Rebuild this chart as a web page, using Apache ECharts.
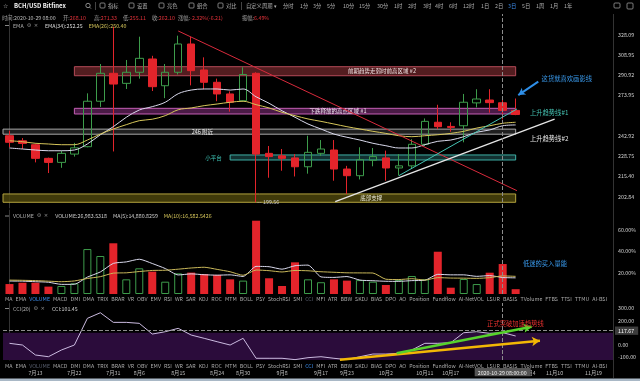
<!DOCTYPE html>
<html><head><meta charset="utf-8">
<script src="https://cdn.jsdelivr.net/npm/echarts@6.0.0/dist/echarts.min.js"></script>
<style>html,body{margin:0;padding:0;background:#000;overflow:hidden}#chart{width:640px;height:381px}</style>
</head><body><div id="chart"></div>
<script>
// ---------------- data ----------------
const dates = ['7月7','7月10','7月13','7月16','7月19','7月22','7月25','7月28','7月31','8月3','8月6','8月9','8月12','8月15','8月18','8月21','8月24','8月27','8月30','9月2','9月5','9月8','9月11','9月14','9月17','9月20','9月23','9月26','9月29','10月2','10月5','10月8','10月11','10月14','10月17','10月20','10月23','10月26','10月29','11月1','11月4','11月7','11月10','11月13','11月16','11月19','11月22'];
const dateTicks = ['7月13','7月22','7月31','8月6','8月15','8月24','8月30','9月8','9月17','9月23','10月2','10月11','10月17','11月4','11月10','11月19'];
const openP  = [243.1,239.5,236.7,227.3,224.6,230.2,235.3,269.3,292.6,284.0,293.5,305.3,282.0,293.5,319.2,295.5,284.9,275.2,269.7,292.6,230.7,229.0,227.6,221.7,230.7,233.0,220.2,215.9,226.0,227.6,220.9,222.3,237.0,253.0,249.9,250.4,268.0,270.3,268.10,262.10];
const closeP = [238.4,237.6,227.3,224.6,230.7,234.5,269.3,292.6,283.4,293.5,305.9,281.2,293.5,319.2,294.9,284.9,275.2,268.5,291.6,230.2,228.5,227.3,221.7,231.4,233.7,220.2,215.9,226.4,228.5,220.9,222.3,237.0,253.7,249.7,249.2,268.5,271.1,268.2,262.10,258.89];
const lowP   = [234.9,233.7,224.6,217.6,221.0,228.5,234.9,264.8,232.0,279.3,288.0,277.6,271.8,291.6,282.3,279.1,269.3,261.1,269.3,199.56,214.6,219.1,215.4,217.2,229.0,212.7,204.5,213.5,222.0,212.7,216.0,220.2,235.8,247.9,246.0,238.4,264.4,260.3,255.11,258.4];
const highP  = [246.8,241.4,237.6,227.8,232.6,238.0,275.7,300.8,336.0,304.4,326.2,308.2,300.8,327.2,326.2,306.8,288.0,277.3,297.9,293.5,235.8,233.7,230.2,243.1,240.0,240.0,222.3,234.9,234.4,232.6,230.2,240.6,255.9,266.5,253.0,275.2,279.1,279.1,271.33,271.5];
const emaWhite  = [234.4,233.7,233.0,232.5,232.5,233.0,237.2,243.8,249.7,256.8,262.4,265.0,268.5,275.4,278.4,279.3,279.3,278.4,279.3,272.9,267.7,261.8,256.8,251.7,248.0,244.3,242.0,240.0,237.7,236.0,234.4,234.4,236.7,239.1,240.0,242.4,245.6,247.3,250.40,251.0];
const emaYellow = [239.5,238.8,237.7,237.2,236.7,236.7,240.0,244.3,248.0,251.2,254.2,255.3,258.0,262.6,264.0,265.8,267.1,268.5,269.3,266.6,264.0,260.6,258.0,255.5,253.7,251.7,249.7,248.0,246.3,244.8,243.1,242.4,243.1,243.8,244.8,246.3,248.7,250.4,252.25,253.0];
const volume  = [9.3,10.5,10.5,6.9,7.5,10,42,35.5,47.4,13.7,24,20.9,11.5,19.3,20,18.7,17.8,13.7,12.5,68.5,14.7,7.5,29.6,13.7,11,13.7,12.5,13,11.5,8.4,13,16.8,13.7,39.5,5.9,14,9.3,19.9,28,4.5];
const volMA5  = [12.1,12,11.5,11,9,9.1,15.8,20.6,28.6,30,32.5,28.5,23.8,17.8,18.8,18,17.6,17.9,16.4,25.8,25.5,23.2,26.4,27,16,15.5,16.3,13,12.4,11.9,11.8,12.5,12.8,18.4,17.9,17.9,16.5,17.2,15.4,15.1];
const volMA10 = [13,12.8,12.5,12,11.5,12.2,14.5,16.2,19.5,19.8,21,22,22.2,23.2,24.3,25,23,20.8,17.5,22.4,21.8,20.6,22,21.7,20.8,20.3,19.8,19.7,19.6,13.8,13.5,14.3,13,15.3,14.9,14.8,14.6,15.3,16.9,16.5];
const cci = [14,0,-82,-96,-41,0,219,265,186,186,178,90,109,137,82,55,27,0,55,-109,-109,-109,-120,-104,-96,-109,-120,-96,-74,-74,-68,-41,14,14,19,101,109,96,101.45,74];
const priceTicks = [202.84,215.40,228.75,242.92,273.95,290.92,308.95,328.09];
const volTicks = [20,40,60];
const cciTicks = [-100,0,200,300];
const cciBand = [100,-123];
const zoneNames = ['前期趋势走弱时前高区域 #2','下跌释放的高点区域 #1','246 附近','小平台','底部支撑'];
const zoneStart = [5,5,-0.5,17,-0.5];
const zoneEnd   = [39,39,39,39,39];
const zoneHigh  = [298.4,263.7,247.9,229.6,204.5];
const zoneLow   = [290.5,259.3,244.2,226.2,199.5];
const trendNames = ['下降压力线','上升趋势线#1','上升趋势线#2'];
const trendStartIdx = [13.0,30.0,25.1];
const trendStartPrice = [331.8,215.9,199.9];
const trendEndIdx = [39.1,39.1,42.0];
const trendEndPrice = [206.5,263.2,255.3];
const mainNotes = ['这货就喜欢画影线','上升趋势线#1','上升趋势线#2'];
const mainNoteIdx = [41.0,40.1,40.1];
const mainNotePrice = [288.3,260.3,240.8];
const blueArrowIdx = [40.74,39.2];
const blueArrowPrice = [285.4,274.3];
const volNote = '低迷的买入量能', volNoteIdx = 39.56, volNoteValue = 28.7;
const cciNote = '正式突破加速趋势线', cciNoteIdx = 36.8, cciNoteValue = 178;
const greenArrowIdx = [29.83,40.23], greenArrowCCI = [-68,150];
const orangeArrowIdx = [25.46,40.87], orangeArrowCCI = [-120,35];
const lastPrice = 258.89, lowIdx = 19, lowPrice = 199.56;
const crossIdx = 38, crossDate = '2020-10-29 08:00:00', crossCCI = 117.67, lastVolume = 4.5;
const priceRange = [196.15,348.93], volRange = [0,78.5], cciRange = [-123,345];

// ---------------- styles / layout ----------------
const FONT = '"Noto Sans CJK SC","Noto Sans",sans-serif';
const UP = '#3d9c4b', DOWN = '#e3242b';
const N = dates.length;
const ln = Math.log;
const zoneFill = ['rgba(98,34,38,0.85)','rgba(105,38,100,0.7)','rgba(45,45,45,0.7)','rgba(25,70,70,0.7)','rgba(75,68,12,0.85)'];
const zoneBorder = ['#b44a58','#c45fb5','#a8a8a8','#3fb0a6','#b3a33e'];
const zoneTextColor = ['#f2e6e6','#f2e6f2','#f0f0f0','#3fc7b8','#f0f0e0'];
const zoneLabelPos = ['inside','inside','inside','left','inside'];
const zoneLabelOffset = [[87,0],[43,0],[-57,0],[0,0],[112,0]];
const trendColors = ['#d82a3c','#45c4b4','#e6e6e6'];
const trendWidths = [1,1,1.3];
const mainNoteColors = ['#3a9cf0','#45c4b4','#e8e8e8'];

const chart = echarts.init(document.getElementById('chart'));
const grids = [{left:3,width:610,top:14,height:194},{left:3,width:610,top:210,height:84},{left:3,width:610,top:303,height:57}];

function catAxis(g, show){
  return {type:'category', gridIndex:g, data:dates, boundaryGap:true,
    axisLine:{show:false}, axisTick:{show:false}, splitLine:{show:false},
    axisLabel: show ? {interval:0, margin:10, color:'#bdbdbd', fontSize:5.3, fontFamily:FONT,
      formatter:(v)=> dateTicks.includes(v) ? v : ''} : {show:false}};
}
function valAxis(g){ return {type:'value', gridIndex:g, min:-0.5, max:N-0.5, show:false}; }
function yAx(g, min, max, ticks, fmt){
  return {type:'value', gridIndex:g, position:'right', min, max,
    axisLine:{show:true, lineStyle:{color:'#333'}}, axisTick:{show:false}, splitLine:{show:false},
    axisLabel:{customValues:ticks, formatter:fmt, color:'#d0d0d0', fontSize:5.3, margin:5, fontFamily:FONT}};
}
const boxLabel = (text, bg, pos, dist, fg) => ({show:true, position:pos, formatter:text, color:fg||'#fff', backgroundColor:bg, padding:[2,4,1,3], fontSize:5.3, fontFamily:FONT, distance:dist});
const noteLabel = (color, size) => ({show:true, position:'right', distance:0, formatter:'{b}', color, fontSize:size||6.3, fontFamily:FONT});

const series = [];
// zones
series.push({type:'line', xAxisIndex:3, yAxisIndex:0, data:[], z:1, silent:true,
  markArea:{silent:true, data: zoneNames.map((n,i)=>[
    {name:n, xAxis:zoneStart[i], yAxis:ln(zoneHigh[i]),
      itemStyle:{color:zoneFill[i], borderColor:zoneBorder[i], borderWidth:1},
      label:{show:true, position:zoneLabelPos[i], offset:zoneLabelOffset[i], distance:8, color:zoneTextColor[i], fontSize:5.5, fontFamily:FONT}},
    {xAxis:zoneEnd[i], yAxis:ln(zoneLow[i])}])}});
// candles
series.push({type:'candlestick', xAxisIndex:0, yAxisIndex:0, z:3, barWidth:8,
  data: openP.map((o,i)=>[ln(o), ln(closeP[i]), ln(lowP[i]), ln(highP[i])]),
  itemStyle:{color:'rgba(0,0,0,0)', color0:DOWN, borderColor:UP, borderColor0:DOWN, borderWidth:1}});
// EMA lines
series.push({type:'line', name:'EMA(26)', xAxisIndex:0, yAxisIndex:0, z:4, data:emaWhite.map(ln), symbol:'none', smooth:0.35, lineStyle:{color:'#d9d9ec', width:1}});
series.push({type:'line', name:'EMA(34)', xAxisIndex:0, yAxisIndex:0, z:4, data:emaYellow.map(ln), symbol:'none', smooth:0.35, lineStyle:{color:'#d6c65a', width:1}});
// main overlay
series.push({type:'line', xAxisIndex:3, yAxisIndex:0, data:[], z:6, silent:true,
  markLine:{silent:true, symbol:['none','none'], label:{show:false}, data:[
    ...trendNames.map((n,i)=>[{name:n, coord:[trendStartIdx[i], ln(trendStartPrice[i])], lineStyle:{color:trendColors[i], width:trendWidths[i], type:'solid'}},
                                {coord:[trendEndIdx[i], ln(trendEndPrice[i])]}]),
    [{coord:[blueArrowIdx[0], ln(blueArrowPrice[0])], symbol:'none', lineStyle:{color:'#2f8fe8', width:2, type:'solid'}},
     {coord:[blueArrowIdx[1], ln(blueArrowPrice[1])], symbol:'arrow', symbolSize:[6,7]}],
    {xAxis:crossIdx, lineStyle:{type:'dashed', color:'#8c8c8c', width:1}},
    {yAxis:ln(lastPrice), lineStyle:{opacity:0}, label:boxLabel(lastPrice.toFixed(2), '#e3242b', 'end', 2)}
  ]},
  markPoint:{silent:true, symbol:'circle', symbolSize:0, data:[
    ...mainNotes.map((n,i)=>({name:n, coord:[mainNoteIdx[i], ln(mainNotePrice[i])], label:noteLabel(mainNoteColors[i])})),
    {name:'— '+lowPrice.toFixed(2), coord:[lowIdx, ln(lowPrice)], label:Object.assign(noteLabel('#c8c8c8',5.3),{distance:1})}
  ]}});
// volume
series.push({type:'bar', xAxisIndex:1, yAxisIndex:1, z:3, barWidth:8,
  data: volume.map((v,i)=>{ const up = closeP[i] > openP[i];
    return {value:v, itemStyle: up ? {color:'rgba(0,0,0,0)', borderColor:UP, borderWidth:1} : {color:DOWN}}; })});
series.push({type:'line', xAxisIndex:1, yAxisIndex:1, z:4, data:volMA5, symbol:'none', smooth:0.2, lineStyle:{color:'#d9d9ec', width:1}});
series.push({type:'line', xAxisIndex:1, yAxisIndex:1, z:4, data:volMA10, symbol:'none', smooth:0.2, lineStyle:{color:'#c9b85a', width:1}});
series.push({type:'line', xAxisIndex:4, yAxisIndex:1, data:[], z:6, silent:true,
  markLine:{silent:true, symbol:['none','none'], label:{show:false}, data:[
    {xAxis:crossIdx, lineStyle:{type:'dashed', color:'#8c8c8c', width:1}},
    {yAxis:lastVolume, lineStyle:{opacity:0}, label:boxLabel(lastVolume+'%', '#d99a1e', 'end', 2)}
  ]},
  markPoint:{silent:true, symbol:'circle', symbolSize:0, data:[{name:volNote, coord:[volNoteIdx, volNoteValue], label:noteLabel('#3a9cf0')}]}});
// CCI line with band
series.push({type:'line', xAxisIndex:2, yAxisIndex:2, z:4, data:cci, symbol:'none', lineStyle:{color:'#cbbbe0', width:1},
  markArea:{silent:true, z:1, itemStyle:{color:'#2b0c3b'}, data:[[{yAxis:cciBand[0]}, {yAxis:cciBand[1]}]]}});
series.push({type:'line', xAxisIndex:5, yAxisIndex:2, data:[], z:6, silent:true,
  markLine:{silent:true, symbol:['none','none'], label:{show:false}, data:[
    {xAxis:crossIdx, lineStyle:{type:'dashed', color:'#8c8c8c', width:1}, label:boxLabel(crossDate, '#555', 'start', 8, '#eee')},
    {yAxis:crossCCI, lineStyle:{type:'dashed', color:'#8c8c8c', width:1}, label:boxLabel(crossCCI.toFixed(2), '#3c3c3c', 'end', 2)},
    [{coord:[orangeArrowIdx[0], orangeArrowCCI[0]], symbol:'none', lineStyle:{color:'#f2b705', width:2.5, type:'solid'}},
     {coord:[orangeArrowIdx[1], orangeArrowCCI[1]], symbol:'arrow', symbolSize:[7,8]}],
    [{coord:[greenArrowIdx[0], greenArrowCCI[0]], symbol:'none', lineStyle:{color:'#57d22c', width:2.5, type:'solid'}},
     {coord:[greenArrowIdx[1], greenArrowCCI[1]], symbol:'arrow', symbolSize:[7,8]}]
  ]},
  markPoint:{silent:true, symbol:'circle', symbolSize:0, data:[{name:cciNote, coord:[cciNoteIdx, cciNoteValue], label:noteLabel('#e8312f')}]}});

// ---------------- UI chrome (text rows) ----------------
const G = [];
const mctx = document.createElement('canvas').getContext('2d');
function tw(s, size, bold){ mctx.font = (bold?'bold ':'') + size + 'px ' + FONT; return mctx.measureText(s).width; }
function text(x, y, s, fill, size, bold, fam){
  G.push({type:'text', x, y, z:100, silent:true, style:{text:s, fill, font:(bold?'bold ':'') + (size||5.3) + 'px ' + (fam||FONT), verticalAlign:'middle'}});
  return x + tw(s, size||5.3, bold);
}
function hline(x1,y1,x2,y2,stroke,w){ G.push({type:'line', z:100, silent:true, shape:{x1,y1,x2,y2}, style:{stroke, lineWidth:w||1}}); }
function box(x,y,w,h,stroke,fill){ G.push({type:'rect', z:100, silent:true, shape:{x,y,width:w,height:h,r:1}, style:{stroke, fill:fill||'none', lineWidth:0.8}}); }

// toolbar
text(3, 6, '☆', '#bbb', 6, false, 'DejaVu Sans');
text(14, 6, 'BCH/USD Bitfinex', '#f2f2f2', 6, true);
G.push({type:'circle', z:100, silent:true, shape:{cx:88, cy:5.5, r:2.2}, style:{stroke:'#aaa', fill:'none', lineWidth:0.8}});
hline(89.6,7.2,91,8.6,'#aaa',0.8);
hline(95.5,2,95.5,10,'#444',1); hline(241.5,2,241.5,10,'#444',1);
[['指标',108],['设置',137],['亮色',167],['组合',197],['对比',226]].forEach(([s,x])=>{ box(x-8,3,5,5,'#999'); text(x, 6, s, '#b0b0b0', 5.3); });
text(246, 6, '自定义周期 ▾', '#b0b0b0', 5.3);
[['分时',283],['1分',300],['3分',313],['5分',327],['10分',343],['15分',359],['30分',377],['1时',394],['2时',408],['3时',423],['4时',435],['6时',449],['12时',463],['1日',481],['2日',495],['3日',508],['5日',522],['1周',536],['1月',550],['1年',564]]
  .forEach(([s,x])=>text(x, 6, s, s==='3日' ? '#3d8ff0' : '#b0b0b0', 5.3));
box(614,3,6,5,'#999'); box(627,3,6,6,'#999');
// info row
[['时间:','2020-10-29 08:00',2,'#bdbdbd'],['开:','268.10',63,'#e5323a'],['高:','271.33',94,'#e5323a'],['低:','255.11',123,'#e5323a'],['收:','262.10',152,'#e5323a'],['涨幅:','-2.32%(-6.21)',178,'#e5323a'],['振幅:','6.49%',242,'#e5323a']]
  .forEach(([a,b,x,c])=>{ const nx = text(x, 17.5, a, '#a0a0a0', 5.3); text(nx, 17.5, b, c, 5.3); });
// legend rows
function legendRow(y, name, items){
  hline(5,y,9,y,'#aaa',0.8);
  let x = text(13, y, name, '#b0b0b0', 5.3);
  x = text(x+3, y, '⚙', '#888', 5.3, false, 'DejaVu Sans');
  x = text(x+3, y, '×', '#888', 5.3, false, 'DejaVu Sans');
  x += 6;
  items.forEach(([s,c])=>{ x = text(x, y, s, c, 5.3) + 6; });
}
legendRow(25.5, 'EMA', [['EMA(34):252.25','#dcdcdc'],['EMA(26):250.40','#d6c65a']]);
legendRow(216, 'VOLUME', [['VOLUME:26,983.5318','#cfcfcf'],['MA(5):14,880.8259','#cfcfcf'],['MA(10):16,582.5426','#d6c65a']]);
legendRow(308.5, 'CCI(20)', [['CCI:101.45','#cfcfcf']]);
// indicator rows
const indicators = ['MA','EMA','VOLUME','MACD','DMI','DMA','TRIX','BRAR','VR','OBV','EMV','RSI','WR','SAR','KDJ','ROC','MTM','BOLL','PSY','StochRSI','SMI','CCI','MFI','ATR','BBW','SKDJ','BIAS','DPO','AO','Position','Fundflow','AI-NetVOL','LSUR','BASIS','TVolume','FTBS','TTSI','TTMU','AI-BSI'];
function indicatorRow(y, active, dim){
  const widths = indicators.map(s=>tw(s,5.3));
  const gap = (607 - 5 - widths.reduce((a,b)=>a+b,0)) / (indicators.length-1);
  let x = 5;
  indicators.forEach((s,i)=>{ text(x, y, s, s===active ? '#3d8ff0' : (s===dim ? '#5a6070' : '#a8a8a8'), 5.3); x += widths[i] + gap; });
}
indicatorRow(299, 'VOLUME', 'CCI');
indicatorRow(366, 'CCI', 'VOLUME');
hline(613.5,14,613.5,378,'#333',1);
G.push({type:'rect', z:100, silent:true, shape:{x:0,y:378.5,width:640,height:3}, style:{fill:'#a9b8c6'}});

chart.setOption({
  animation:false, backgroundColor:'#000',
  textStyle:{fontFamily:FONT},
  grid:grids,
  xAxis:[catAxis(0,false), catAxis(1,false), catAxis(2,true), valAxis(0), valAxis(1), valAxis(2)],
  yAxis:[
    yAx(0, ln(priceRange[0]), ln(priceRange[1]), priceTicks.map(ln), v=>Math.exp(v).toFixed(2)),
    yAx(1, volRange[0], volRange[1], volTicks, v=>v.toFixed(2)+'%'),
    yAx(2, cciRange[0], cciRange[1], cciTicks, v=>v.toFixed(2))
  ],
  series, graphic:G
});
</script></body></html>
